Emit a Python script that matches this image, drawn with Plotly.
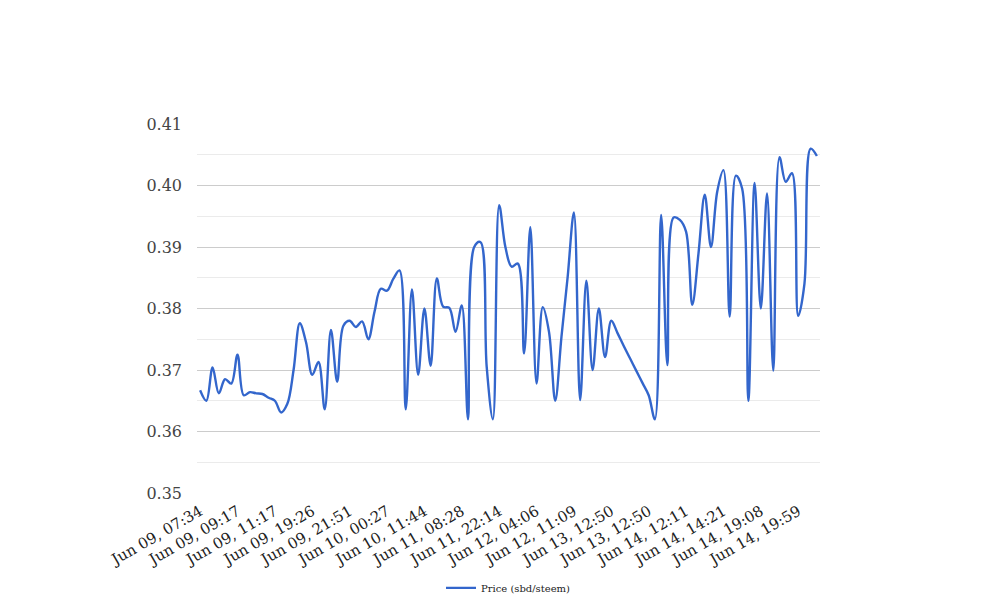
import plotly.graph_objects as go

# Tick labels shown on the x axis (every 6th point)
tick_labels = [
    "Jun 09, 07:34", "Jun 09, 09:17", "Jun 09, 11:17", "Jun 09, 19:26",
    "Jun 09, 21:51", "Jun 10, 00:27", "Jun 10, 11:44", "Jun 11, 08:28",
    "Jun 11, 22:14", "Jun 12, 04:06", "Jun 12, 11:09", "Jun 13, 12:50",
    "Jun 13, 12:50", "Jun 14, 12:11", "Jun 14, 14:21", "Jun 14, 19:08",
    "Jun 14, 19:59",
]
label_step = 6

# Price series (sbd/steem), 100 observations
price = [
    0.3667, 0.3650, 0.3704, 0.3662, 0.3685, 0.3678, 0.3725, 0.3659, 0.3664, 0.3662,
    0.3661, 0.3655, 0.3650, 0.3631, 0.3645, 0.3700, 0.3776, 0.3745, 0.3692, 0.3713,
    0.3636, 0.3765, 0.3681, 0.3772, 0.3780, 0.3770, 0.3779, 0.3750, 0.3795, 0.3832,
    0.3829, 0.3848, 0.3862, 0.3636, 0.3831, 0.3692, 0.3800, 0.3707, 0.3849, 0.3803,
    0.3801, 0.3762, 0.3805, 0.3620, 0.3900, 0.3908, 0.3705, 0.3620, 0.3968, 0.3900,
    0.3868, 0.3873, 0.3727, 0.3932, 0.3678, 0.3802, 0.3762, 0.3650, 0.3754, 0.3852,
    0.3956, 0.3651, 0.3845, 0.3700, 0.3800, 0.3721, 0.3780, 0.3760, 0.3739, 0.3719,
    0.3699, 0.3679, 0.3659, 0.3620, 0.3952, 0.3708, 0.3948, 0.3944, 0.3925, 0.3806,
    0.3890, 0.3985, 0.3900, 0.3990, 0.4025, 0.3787, 0.4016, 0.3995, 0.3650, 0.4004,
    0.3800, 0.3987, 0.3699, 0.4046, 0.4006, 0.4020, 0.3788, 0.3840, 0.4060, 0.4048,
]

y_ticks = [0.35, 0.36, 0.37, 0.38, 0.39, 0.40, 0.41]

x = list(range(len(price)))
tickvals = [i * label_step for i in range(len(tick_labels))]

FONT = "DejaVu Serif"

fig = go.Figure()
fig.add_trace(go.Scatter(
    x=x, y=price, mode="lines", name="Price (sbd/steem)",
    line=dict(color="#3366cc", width=2.4, shape="spline", smoothing=1.0),
))

fig.update_layout(
    width=1008, height=616,
    margin=dict(l=189, r=196, t=116, b=131, autoexpand=False),
    paper_bgcolor="white", plot_bgcolor="white",
    font=dict(family=FONT, color="#444444", size=15),
    showlegend=True,
    legend=dict(orientation="h", x=0.5, xanchor="center", y=-0.257, yanchor="middle",
                font=dict(family=FONT, size=10, color="#222222"), itemwidth=30),
    hovermode=False,
)
fig.update_xaxes(
    range=[-0.5, len(price) - 0.5], automargin=False,
    tickmode="array", tickvals=tickvals, ticktext=tick_labels,
    tickangle=-30, showgrid=False, zeroline=False, showline=False,
    ticks="", ticklabelstandoff=6,
    tickfont=dict(family=FONT, size=15, color="#222222"),
)
fig.update_yaxes(
    range=[0.35, 0.41], automargin=False, tickmode="array", tickvals=y_ticks,
    tickformat=".2f", showgrid=True, gridcolor="#cccccc", gridwidth=1,
    zeroline=False, showline=False, ticks="", ticklabelstandoff=14,
    minor=dict(dtick=0.005, tick0=0.35, showgrid=True, gridcolor="#ebebeb", gridwidth=1),
    tickfont=dict(family=FONT, size=16, color="#444444"),
)

fig.write_html("out.html")
